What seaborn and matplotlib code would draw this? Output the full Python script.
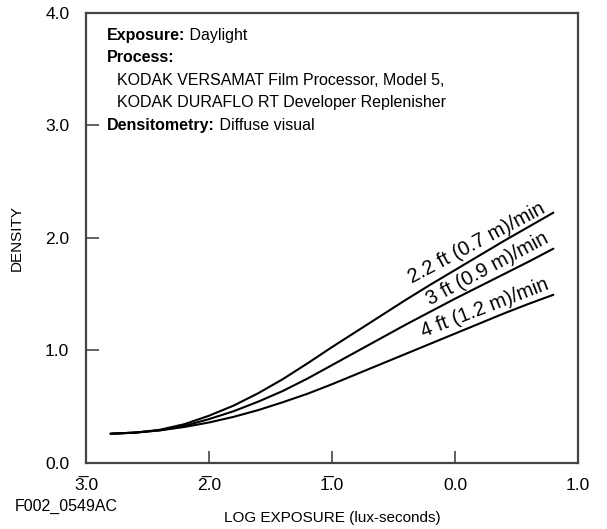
import matplotlib
matplotlib.use("Agg")
import matplotlib.pyplot as plt
import numpy as np
import pandas as pd
import seaborn as sns

# log exposure values
log_exposure = [-2.8, -2.6, -2.4, -2.2, -2.0, -1.8, -1.6, -1.4, -1.2, -1.0,
                -0.8, -0.6, -0.4, -0.2, 0.0, 0.2, 0.4, 0.6, 0.8]

density_22ft = [0.26, 0.27, 0.295, 0.345, 0.42, 0.51, 0.62, 0.745, 0.885,
                1.03, 1.17, 1.31, 1.45, 1.585, 1.715, 1.845, 1.975, 2.10, 2.225]
density_3ft = [0.26, 0.27, 0.29, 0.33, 0.39, 0.46, 0.545, 0.64, 0.75, 0.87,
               0.99, 1.11, 1.23, 1.345, 1.46, 1.57, 1.68, 1.79, 1.905]
density_4ft = [0.26, 0.27, 0.29, 0.32, 0.36, 0.41, 0.47, 0.54, 0.615, 0.70,
               0.79, 0.88, 0.97, 1.06, 1.15, 1.24, 1.33, 1.415, 1.495]

speed_labels = ['2.2 ft (0.7 m)/min', '3 ft (0.9 m)/min', '4 ft (1.2 m)/min']
label_x = [0.21, 0.30, 0.27]
label_angle = [28, 28, 21]

x_ticks = [-3.0, -2.0, -1.0, 0.0, 1.0]
x_tick_labels = ['3\u0305.0', '2\u0305.0', '1\u0305.0', '0.0', '1.0']
y_ticks = [0.0, 1.0, 2.0, 3.0, 4.0]
y_tick_labels = ['0.0', '1.0', '2.0', '3.0', '4.0']

notes = [
    ('Exposure:', ' Daylight', 3.8, False),
    ('Process:', '', 3.6, False),
    ('', 'KODAK VERSAMAT Film Processor, Model 5,', 3.4, True),
    ('', 'KODAK DURAFLO RT Developer Replenisher', 3.2, True),
    ('Densitometry:', ' Diffuse visual', 3.0, False),
]

sns.set_style('white')
plt.rcParams['font.family'] = ['Liberation Sans', 'DejaVu Sans']
plt.rcParams['text.color'] = 'black'
plt.rcParams['axes.labelcolor'] = 'black'

curves = {speed_labels[0]: density_22ft,
          speed_labels[1]: density_3ft,
          speed_labels[2]: density_4ft}
df = pd.concat(
    [pd.DataFrame({'log_exposure': log_exposure, 'density': d, 'speed': s})
     for s, d in curves.items()],
    ignore_index=True)

fig = plt.figure(figsize=(6.07, 5.29), dpi=100)
ax = fig.add_axes([0.1417, 0.1248, 0.8105, 0.8507])

sns.lineplot(data=df, x='log_exposure', y='density', hue='speed',
             palette=['black'] * 3, legend=False, linewidth=1.5,
             estimator=None, sort=False, ax=ax)

ax.set_xlim(-3, 1)
ax.set_ylim(0, 4)
ax.set_xticks(x_ticks)
ax.set_xticklabels(x_tick_labels)
ax.set_yticks(y_ticks)
ax.set_yticklabels(y_tick_labels)
ax.tick_params(bottom=True, left=True, direction='in', length=9, width=1.3,
               color='#555555', labelsize=12.5, labelcolor='black')
ax.tick_params(axis='x', pad=11)
ax.tick_params(axis='y', pad=12)
for sp in ax.spines.values():
    sp.set_visible(True)
    sp.set_color('#444444')
    sp.set_linewidth(1.6)

ax.set_xlabel('LOG EXPOSURE (lux-seconds)', fontsize=11)
ax.set_ylabel('DENSITY', fontsize=11)
ax.xaxis.set_label_coords(0.5, -0.106)
ax.yaxis.set_label_coords(-0.126, 0.5)

# curve labels, sitting just above each line
for s, lx, ang in zip(speed_labels, label_x, label_angle):
    y_at = np.interp(lx, log_exposure, curves[s])
    ax.text(lx, y_at + 0.03, s, rotation=ang, rotation_mode='anchor',
            ha='center', va='bottom', fontsize=14.5)

# process notes box
for bold, normal, y, indent in notes:
    x0 = -2.75 if indent else -2.83
    if bold:
        t = ax.text(x0, y, bold, fontweight='bold', fontsize=11.5,
                    va='center')
        if normal:
            ax.annotate(normal, xy=(1, 0.5), xycoords=t, va='center',
                        fontsize=11.5)
    else:
        ax.text(x0, y, normal, fontsize=11.5, va='center')

fig.text(15 / 607, 1 - 506 / 529, 'F002_0549AC', fontsize=11.5, va='center')

fig.savefig('out.png', dpi=100)
